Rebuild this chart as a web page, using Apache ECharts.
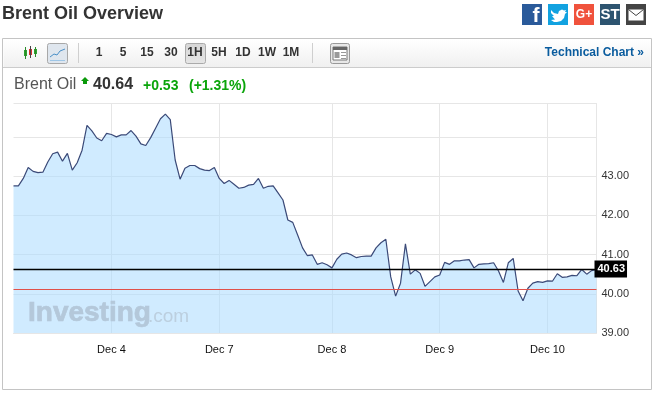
<!DOCTYPE html>
<html>
<head>
<meta charset="utf-8">
<style>html,body{margin:0;padding:0;background:#fff}#chart{width:660px;height:396px}</style>
<script src="https://cdn.jsdelivr.net/npm/echarts@6/dist/echarts.min.js"></script>
</head>
<body>
<div id="chart"></div>
<script>
var prices = [
    42.75, 42.75, 42.94, 43.22, 43.12, 43.09, 43.10, 43.36, 43.57, 43.61,
    43.38, 43.58, 43.15, 43.34, 43.66, 44.29, 44.15, 43.97, 43.90, 44.09,
    44.06, 44.00, 44.05, 44.05, 44.16, 44.02, 43.82, 43.78, 43.98, 44.22,
    44.46, 44.58, 44.44, 43.41, 42.92, 43.20, 43.27, 43.27, 43.19, 43.15,
    43.14, 43.22, 42.94, 42.81, 42.89, 42.79, 42.69, 42.71, 42.77, 42.79,
    42.94, 42.69, 42.74, 42.75, 42.57, 42.39, 41.88, 41.82, 41.50, 41.17,
    40.97, 40.99, 40.75, 40.79, 40.74, 40.66, 40.88, 41.01, 41.04, 40.99,
    40.92, 40.95, 40.96, 40.96, 41.17, 41.30, 41.39, 40.43, 39.94, 40.27,
    41.27, 40.50, 40.61, 40.52, 40.19, 40.31, 40.43, 40.48, 40.80, 40.75,
    40.84, 40.84, 40.86, 40.87, 40.66, 40.75, 40.76, 40.77, 40.79, 40.58,
    40.29, 40.79, 40.90, 40.07, 39.82, 40.14, 40.27, 40.31, 40.29, 40.33,
    40.32, 40.51, 40.42, 40.43, 40.47, 40.46, 40.62, 40.50, 40.59, 40.62
];
var dayIndexes = [20, 42, 65, 87, 109];
var dayLabels = ['Dec 4', 'Dec 7', 'Dec 8', 'Dec 9', 'Dec 10'];
var yLabels = ['39.00', '40.00', '41.00', '42.00', '43.00'];
var lastPrice = 40.63;
var prevClose = 40.11;
var periods = ['1', '5', '15', '30', '1H', '5H', '1D', '1W', '1M'];
var periodX = [99, 123, 147, 171, 195, 219, 243, 267, 291];

var categories = prices.map(function (p, i) {
    var k = dayIndexes.indexOf(i);
    return k >= 0 ? dayLabels[k] : String(i);
});
function isDay(i) {
    return dayIndexes.indexOf(i) >= 0;
}

var font = 'Arial, "Liberation Sans", sans-serif';

function txt(x, y, text, size, color, weight, align) {
    return {
        type: 'text', x: x, y: y, z: 10,
        style: {
            text: text, font: (weight || 'normal') + ' ' + size + 'px ' + font,
            fill: color, align: align || 'left', verticalAlign: 'middle'
        }
    };
}
function box(x, y, w, h, fill, stroke, r) {
    return {
        type: 'rect', z: 5,
        shape: { x: x, y: y, width: w, height: h, r: r || 0 },
        style: { fill: fill, stroke: stroke || null, lineWidth: 1 }
    };
}
function seg(x1, y1, x2, y2, color, w) {
    return {
        type: 'line', z: 11,
        shape: { x1: x1, y1: y1, x2: x2, y2: y2 },
        style: { stroke: color, lineWidth: w || 1 }
    };
}

var btnGrad = new echarts.graphic.LinearGradient(0, 0, 0, 1, [
    { offset: 0, color: '#ffffff' }, { offset: 1, color: '#f0f0f0' }
]);
var activeGrad = new echarts.graphic.LinearGradient(0, 0, 0, 1, [
    { offset: 0, color: '#d6d6d6' }, { offset: 1, color: '#e6e6e6' }
]);

var watermark = txt(28, 313, 'Investing', 28, '#b4c8da', 'bold');
watermark.style.stroke = '#b4c8da';
watermark.style.lineWidth = 0.7;

var chrome = [
    txt(2, 14, 'Brent Oil Overview', 18, '#333333', 'bold'),
    box(2.5, 38.5, 649, 351, 'none', '#c4c4c4'),
    box(3.5, 39.5, 647, 28, btnGrad, null),
    seg(3, 67.5, 651, 67.5, '#cccccc'),
    seg(78.5, 43, 78.5, 63, '#cfcfcf'),
    seg(312.5, 43, 312.5, 63, '#cfcfcf'),
    // candle icon
    seg(25.5, 47, 25.5, 59, '#2a8a2a'), box(24, 50, 3, 6, '#2fa52f', null),
    seg(30.5, 46, 30.5, 58, '#444444'), box(29, 49, 3, 6, '#d83030', null),
    seg(35.5, 47, 35.5, 57, '#2a8a2a'), box(34, 49, 3, 5, '#2fa52f', null),
    // line chart button
    box(47.5, 43.5, 20, 20, '#dfe6ee', '#a8a8a8', 2),
    {
        type: 'polyline', z: 11,
        shape: { points: [[50, 57], [54, 54], [57, 55], [60, 51], [65, 49]] },
        style: { stroke: '#4a90c8', fill: null, lineWidth: 1 }
    },
    seg(50, 60.5, 65, 60.5, '#9ec6e6'),
    // active period button
    box(185.5, 43.5, 20, 20, activeGrad, '#aaaaaa', 2),
    // layout icon button
    box(330.5, 43.5, 19, 20, '#e8e8e8', '#999999', 2),
    box(333, 47, 14, 13, '#ffffff', '#777777'),
    box(333, 47, 14, 3, '#666666', null),
    box(334.5, 52, 5, 6, '#999999', null),
    seg(341, 52.5, 346, 52.5, '#999999'), seg(341, 55.5, 346, 55.5, '#999999'), seg(341, 58.5, 346, 58.5, '#999999'),
    txt(644, 53, 'Technical Chart »', 12, '#0a5c9e', 'bold', 'right'),
    // quote line
    txt(14, 85, 'Brent Oil', 16, '#555555'),
    {
        type: 'polygon', z: 11,
        shape: { points: [[85, 77], [89, 81], [87, 81], [87, 84], [83, 84], [83, 81], [81, 81]] },
        style: { fill: '#0a9a0a' }
    },
    txt(93, 85, '40.64', 16, '#333333', 'bold'),
    txt(143, 86, '+0.53', 14, '#0aa50a', 'bold'),
    txt(189, 86, '(+1.31%)', 14, '#0aa50a', 'bold'),
    // social icons
    box(522, 4, 20, 21, '#2a5a9a', null),
    txt(536, 16, 'f', 21, '#ffffff', 'bold', 'center'),
    box(548, 4, 20, 21, '#12a2e0', null),
    {
        type: 'polygon', z: 11,
        shape: {
            points: [[551, 10], [554, 13], [558, 14], [559, 11], [562, 9.5], [564, 10.5], [566, 10], [565, 12], [567, 12], [565, 14], [564, 18], [561, 21], [557, 22], [554, 22], [551, 20], [555, 19.5], [552, 16], [554, 16], [551, 13]]
        },
        style: { fill: '#ffffff' }
    },
    box(574, 4, 20, 21, '#f0523c', null),
    txt(584, 15, 'G+', 12, '#ffffff', 'bold', 'center'),
    box(600, 4, 20, 21, '#2d5470', null),
    txt(610, 15, 'ST', 15, '#ffffff', 'bold', 'center'),
    box(626, 4, 20, 21, '#444444', null),
    box(628.5, 9.5, 15, 11, '#ffffff', null),
    {
        type: 'polyline', z: 11,
        shape: { points: [[628.5, 9.5], [636, 15.5], [643.5, 9.5]] },
        style: { stroke: '#444444', fill: null, lineWidth: 1 }
    },
    // watermark
    watermark,
    txt(148, 317, '.com', 19, '#bccfdf')
];

periods.forEach(function (p, i) {
    chrome.push(txt(periodX[i], 53, p, 12, '#333333', 'bold', 'center'));
});

var chart = echarts.init(document.getElementById('chart'));
chart.setOption({
    animation: false,
    textStyle: { fontFamily: font },
    grid: { left: 13.5, right: 63.5, top: 103.5, height: 229.5 },
    graphic: chrome,
    xAxis: {
        type: 'category',
        data: categories,
        boundaryGap: false,
        axisLine: { lineStyle: { color: '#e6e6e6', width: 1 } },
        axisTick: { show: false },
        splitLine: {
            show: true,
            interval: function (i) { return isDay(i); },
            lineStyle: { color: '#e6e6e6', width: 1 }
        },
        axisLabel: {
            interval: function (i) { return isDay(i); },
            color: '#111111',
            fontSize: 11,
            margin: 11
        }
    },
    yAxis: {
        type: 'value',
        position: 'right',
        min: 39,
        max: 44.85,
        interval: 1,
        axisLine: { show: true, lineStyle: { color: '#e6e6e6', width: 1 } },
        axisTick: { show: false },
        splitLine: { show: true, lineStyle: { color: '#e6e6e6', width: 1 } },
        axisLabel: {
            color: '#333333',
            fontSize: 11,
            margin: 5,
            showMaxLabel: false,
            formatter: function (v) {
                var s = v.toFixed(2);
                return yLabels.indexOf(s) >= 0 ? s : '';
            }
        }
    },
    series: [{
        type: 'line',
        data: prices,
        symbol: 'none',
        smooth: false,
        silent: true,
        lineStyle: { color: '#3b4a78', width: 1.2 },
        areaStyle: { color: 'rgba(170,218,255,0.55)', opacity: 1, origin: 'start' },
        markLine: {
            silent: true,
            symbol: 'none',
            animation: false,
            data: [
                {
                    yAxis: prevClose,
                    lineStyle: { color: '#e0504a', width: 1, type: 'solid' },
                    label: { show: false }
                },
                {
                    yAxis: lastPrice,
                    lineStyle: { color: '#000000', width: 1.4, type: 'solid' },
                    label: {
                        show: true,
                        position: 'end',
                        distance: -2,
                        formatter: lastPrice.toFixed(2),
                        color: '#ffffff',
                        fontWeight: 'bold',
                        fontSize: 11,
                        backgroundColor: '#000000',
                        padding: [3, 2, 3, 3]
                    }
                }
            ]
        }
    }]
});
</script>
</body>
</html>
